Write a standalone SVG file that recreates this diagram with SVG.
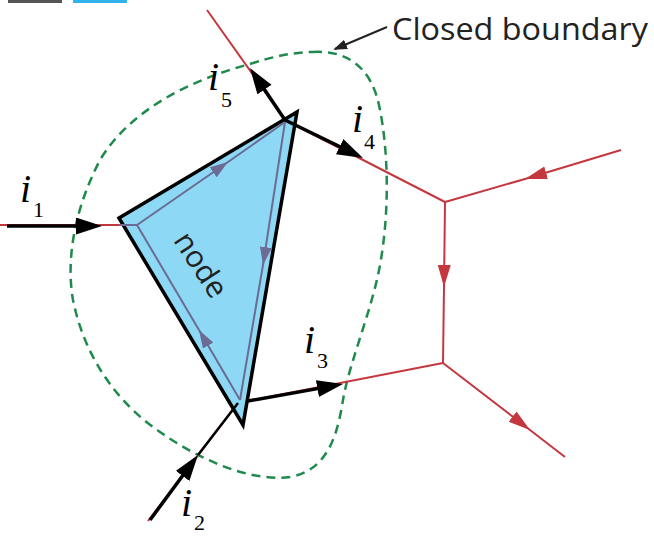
<svg xmlns="http://www.w3.org/2000/svg" width="654" height="536" viewBox="0 0 654 536">
<style>
.wire{fill:none;stroke:#c5373f;stroke-width:2}
.cur{fill:none;stroke:#000;stroke-width:3.5}
.inner{fill:none;stroke:#6b6b93;stroke-width:2}
.bnd{fill:none;stroke:#1f8a4c;stroke-width:2.5;stroke-dasharray:9 6}
.iv{font-family:"Liberation Serif",serif;font-style:italic;font-size:40px;fill:#000}
.sub{font-family:"Liberation Serif",serif;font-size:22px;fill:#000}
.lbl{font-family:"Open Sans","Liberation Sans",sans-serif;fill:#222}
</style>
<defs>
<marker id="ab" markerUnits="userSpaceOnUse" markerWidth="30" markerHeight="20" refX="20" refY="8.5" orient="auto"><path d="M0,0 L26,8.5 L0,17 Z" fill="#000"/></marker>
<marker id="ar" markerUnits="userSpaceOnUse" markerWidth="26" markerHeight="16" refX="22" refY="6.5" orient="auto"><path d="M0,0 L22,6.5 L0,13 Z" fill="#c5373f"/></marker>
<marker id="ap" markerUnits="userSpaceOnUse" markerWidth="22" markerHeight="14" refX="18" refY="6" orient="auto"><path d="M0,0 L18,6 L0,12 Z" fill="#6b6b93"/></marker>
<marker id="al" markerUnits="userSpaceOnUse" markerWidth="16" markerHeight="12" refX="12" refY="5" orient="auto"><path d="M0,0 L14,5 L0,10 Z" fill="#222"/></marker>
</defs>
<rect x="8" y="0" width="54" height="3" fill="#555"/>
<rect x="73" y="0" width="54" height="3" fill="#33b0ee"/>
<g id="boundary">
<path class="bnd" d="M313,52 C345,50 372,65 380,110 C388,150 390,210 380,265 C372,310 350,360 343,400 C338,430 330,470 290,477 C250,482 200,460 160,432 C120,405 85,360 73,300 C66,260 74,210 100,160 C130,110 190,80 250,64 C275,56 295,52 313,52 Z"/>
</g>
<g id="connectors">
<path class="wire" d="M0,225 L122,225"/>
<path class="wire" d="M207,10 L285,120"/>
<path class="wire" d="M285,120 L445,202"/>
<path class="wire" marker-mid="url(#ar)" d="M621,150 L525,179 L445,202"/>
<path class="wire" marker-mid="url(#ar)" d="M445,202 L444,287 L443,363"/>
<path class="wire" marker-mid="url(#ar)" d="M443,363 L530,430 L565,457"/>
<path class="wire" d="M443,363 L248,401"/>
<path class="wire" d="M148,521 L238,403"/>
</g>
<g id="node">
<polygon points="119,218 297,112 243,425" fill="#8dd8f4" stroke="#000" stroke-width="3.5" stroke-linejoin="miter"/>
<path class="inner" d="M119,225 L137,225"/>
<path class="inner" marker-mid="url(#ap)" d="M137,225 L228,162 L285,122"/>
<path class="inner" marker-mid="url(#ap)" d="M285,122 L263,265 L240,400"/>
<path class="inner" marker-mid="url(#ap)" d="M240,400 L199,330 L137,225"/>
<text class="lbl" font-size="30" transform="translate(202,264) rotate(57)" text-anchor="middle" dominant-baseline="central">node</text>
</g>
<g id="currents">
<path class="cur" marker-end="url(#ab)" d="M7,226 L96,226"/>
<path class="cur" marker-end="url(#ab)" d="M285,120 L253.3,73"/>
<path class="cur" marker-end="url(#ab)" d="M285,120 L357.6,155.4"/>
<path class="cur" marker-end="url(#ab)" d="M248,401 L337.1,385.1"/>
<path class="cur" marker-end="url(#ab)" d="M150,520 L194.4,459.8"/>
<path fill="none" stroke="#000" stroke-width="2.5" d="M198,455 L238,403"/>
</g>
<g id="labels">
<text class="iv" x="20" y="202">i</text><text class="sub" x="33" y="217">1</text>
<text class="iv" x="208" y="90">i</text><text class="sub" x="221" y="107">5</text>
<text class="iv" x="352" y="132">i</text><text class="sub" x="364" y="149">4</text>
<text class="iv" x="304" y="353">i</text><text class="sub" x="317" y="368">3</text>
<text class="iv" x="181" y="516">i</text><text class="sub" x="194" y="530">2</text>
</g>
<g id="callout">
<path fill="none" stroke="#222" stroke-width="2" marker-end="url(#al)" d="M387,27 L335,49"/>
<text class="lbl" x="392" y="40" font-size="31" textLength="256" lengthAdjust="spacingAndGlyphs">Closed boundary</text>
</g>
</svg>
